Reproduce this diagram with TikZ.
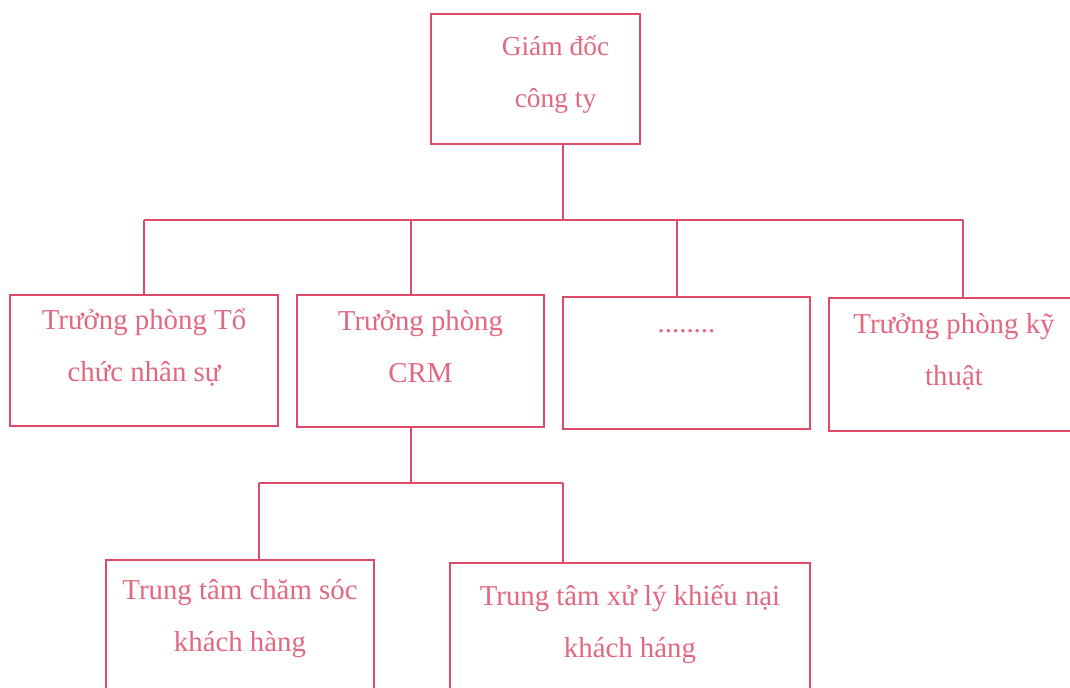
\documentclass[tikz,border=0pt]{standalone}
\usepackage{fontspec}
\setmainfont{Liberation Serif}
\definecolor{orgline}{RGB}{222,74,104}
\definecolor{orgtext}{RGB}{226,104,128}
\begin{document}
\begin{tikzpicture}[x=0.025cm, y=-0.025cm,
    orgbox/.style={rectangle, draw=orgline, line width=1.1pt, text=orgtext, align=center,
      font=\fontsize{20.5}{37}\selectfont, text height=51pt, text depth=20.5pt, inner sep=0pt},
    link/.style={draw=orgline, line width=1.1pt}]
  \fill[white] (0,0) rectangle (1070,687);
  \useasboundingbox (0,0) rectangle (1070,687);
  % Nodes
  \node[orgbox, minimum width=5.225cm, minimum height=3.25cm, text depth=10.5pt, font=\fontsize{19.5}{37}\selectfont] at (535.5,79) (gd) {\hspace*{1cm}Giám đốc\\\hspace*{1cm}công ty};
  \node[orgbox, minimum width=6.7cm, minimum height=3.275cm] at (144,360.5) (tcns) {Trưởng phòng Tổ\\chức nhân sự};
  \node[orgbox, minimum width=6.175cm, minimum height=3.3cm] at (420.5,361) (crm) {Trưởng phòng\\CRM};
  \node[orgbox, minimum width=6.175cm, minimum height=3.3cm] at (686.5,363) (dots) {........\\~};
  \node[orgbox, minimum width=6.25cm, minimum height=3.325cm] at (954,364.5) (kt) {Trưởng phòng kỹ\\thuật};
  \node[orgbox, minimum width=6.7cm, minimum height=3.325cm, text depth=15pt] at (240,626.5) (cskh) {Trung tâm chăm sóc\\khách hàng};
  \node[orgbox, minimum width=9cm, minimum height=3.475cm, text depth=15pt] at (630,632.5) (xlkn) {Trung tâm xử lý khiếu nại\\khách háng};

  % Connectors
  \coordinate (top) at (563,220);
  \coordinate (b1) at (144,220);
  \coordinate (b2) at (411,220);
  \coordinate (b3) at (677,220);
  \coordinate (b4) at (963,220);
  \draw[link] (gd.south -| top) -- (top);
  \draw[link] (b1) -- (b4);
  \foreach \b/\n in {b1/tcns, b2/crm, b3/dots, b4/kt}
    \draw[link] (\b) -- (\b |- \n.north);

  \coordinate (mid) at (411,483);
  \coordinate (c1) at (259,483);
  \coordinate (c2) at (563,483);
  \draw[link] (crm.south -| mid) -- (mid);
  \draw[link] (c1) -- (c2);
  \draw[link] (c1) -- (c1 |- cskh.north);
  \draw[link] (c2) -- (c2 |- xlkn.north);
\end{tikzpicture}
\end{document}
